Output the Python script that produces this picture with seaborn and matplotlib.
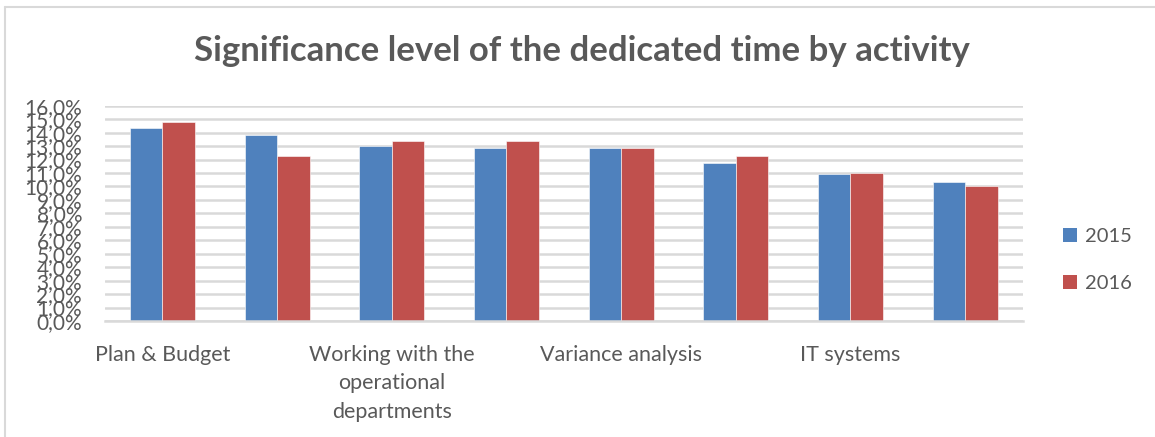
import matplotlib
matplotlib.use("Agg")
import matplotlib.pyplot as plt
import seaborn as sns
import pandas as pd
from matplotlib.lines import Line2D
from matplotlib.patches import Patch

# ---- data ----
categories = ["Plan & Budget", "Category 2",
              "Working with the\noperational\ndepartments", "Category 4",
              "Variance analysis", "Category 6",
              "IT systems", "Category 8"]
shown_labels = ["Plan & Budget", "Working with the\noperational\ndepartments",
                "Variance analysis", "IT systems"]
values_2015 = [14.35, 13.83, 13.01, 12.89, 12.88, 11.75, 10.95, 10.36]
values_2016 = [14.80, 12.29, 13.40, 13.36, 12.85, 12.29, 11.03, 10.04]
years = ["2015", "2016"]
y_ticks = list(range(0, 17))

df = pd.DataFrame({
    "category": categories * 2,
    "year": [years[0]] * len(categories) + [years[1]] * len(categories),
    "value": values_2015 + values_2016,
})

sns.set_theme(style="white")
plt.rcParams["font.family"] = ["Lato", "DejaVu Sans"]

TXT = "#595959"
GRID = "#d9d9d9"
colors = {"2015": "#4F81BD", "2016": "#C0504D"}

fig = plt.figure(figsize=(11.55, 4.37), dpi=100)
ax = fig.add_axes([105 / 1155, 1 - 321 / 437, (1022.5 - 105) / 1155, (321 - 105.7) / 437])

sns.barplot(data=df, x="category", y="value", hue="year", order=categories,
            palette=colors, width=0.567, ax=ax, legend=False,
            edgecolor="white", linewidth=0.4, saturation=1)

ax.set_ylim(0, 16)
ax.set_xlim(-0.5, len(categories) - 0.5)
ax.set_yticks(y_ticks)
ax.set_yticklabels([f"{t:.1f}%".replace(".", ",") for t in y_ticks],
                   fontsize=15, color=TXT)
ax.yaxis.grid(True, color=GRID, linewidth=1.8)
ax.set_axisbelow(True)
ax.tick_params(axis="y", length=0, pad=16.5)
ax.tick_params(axis="x", length=0, pad=17)

# every other category label is shown, as in the original
ax.set_xticks([0, 2, 4, 6])
ax.set_xticklabels(shown_labels, fontsize=15.5, color=TXT, linespacing=1.55)
ax.set_xlabel("")
ax.set_ylabel("")
for s in ["top", "right", "left"]:
    ax.spines[s].set_visible(False)
ax.spines["bottom"].set_color(GRID)
ax.spines["bottom"].set_linewidth(1.8)

fig.text(0.504, 0.884, "Significance level of the dedicated time by activity",
         ha="center", va="center", fontsize=25, fontweight="bold", color=TXT)

handles = [Patch(facecolor=colors[y], edgecolor="none") for y in years]
fig.legend(handles, years, loc="center left", bbox_to_anchor=(1045 / 1155, 1 - 260 / 437),
           frameon=False, fontsize=14.5, labelcolor=TXT, handlelength=0.7, handleheight=0.7,
           handletextpad=0.4, labelspacing=1.45)

# figure frame (top and left edges visible)
fig.add_artist(Line2D([5 / 1155, 5 / 1155], [0, 1 - 7 / 437], color=GRID, linewidth=1.5,
                      transform=fig.transFigure))
fig.add_artist(Line2D([5 / 1155, 1], [1 - 7 / 437, 1 - 7 / 437], color=GRID, linewidth=1.5,
                      transform=fig.transFigure))

fig.savefig("out.png", dpi=100)
